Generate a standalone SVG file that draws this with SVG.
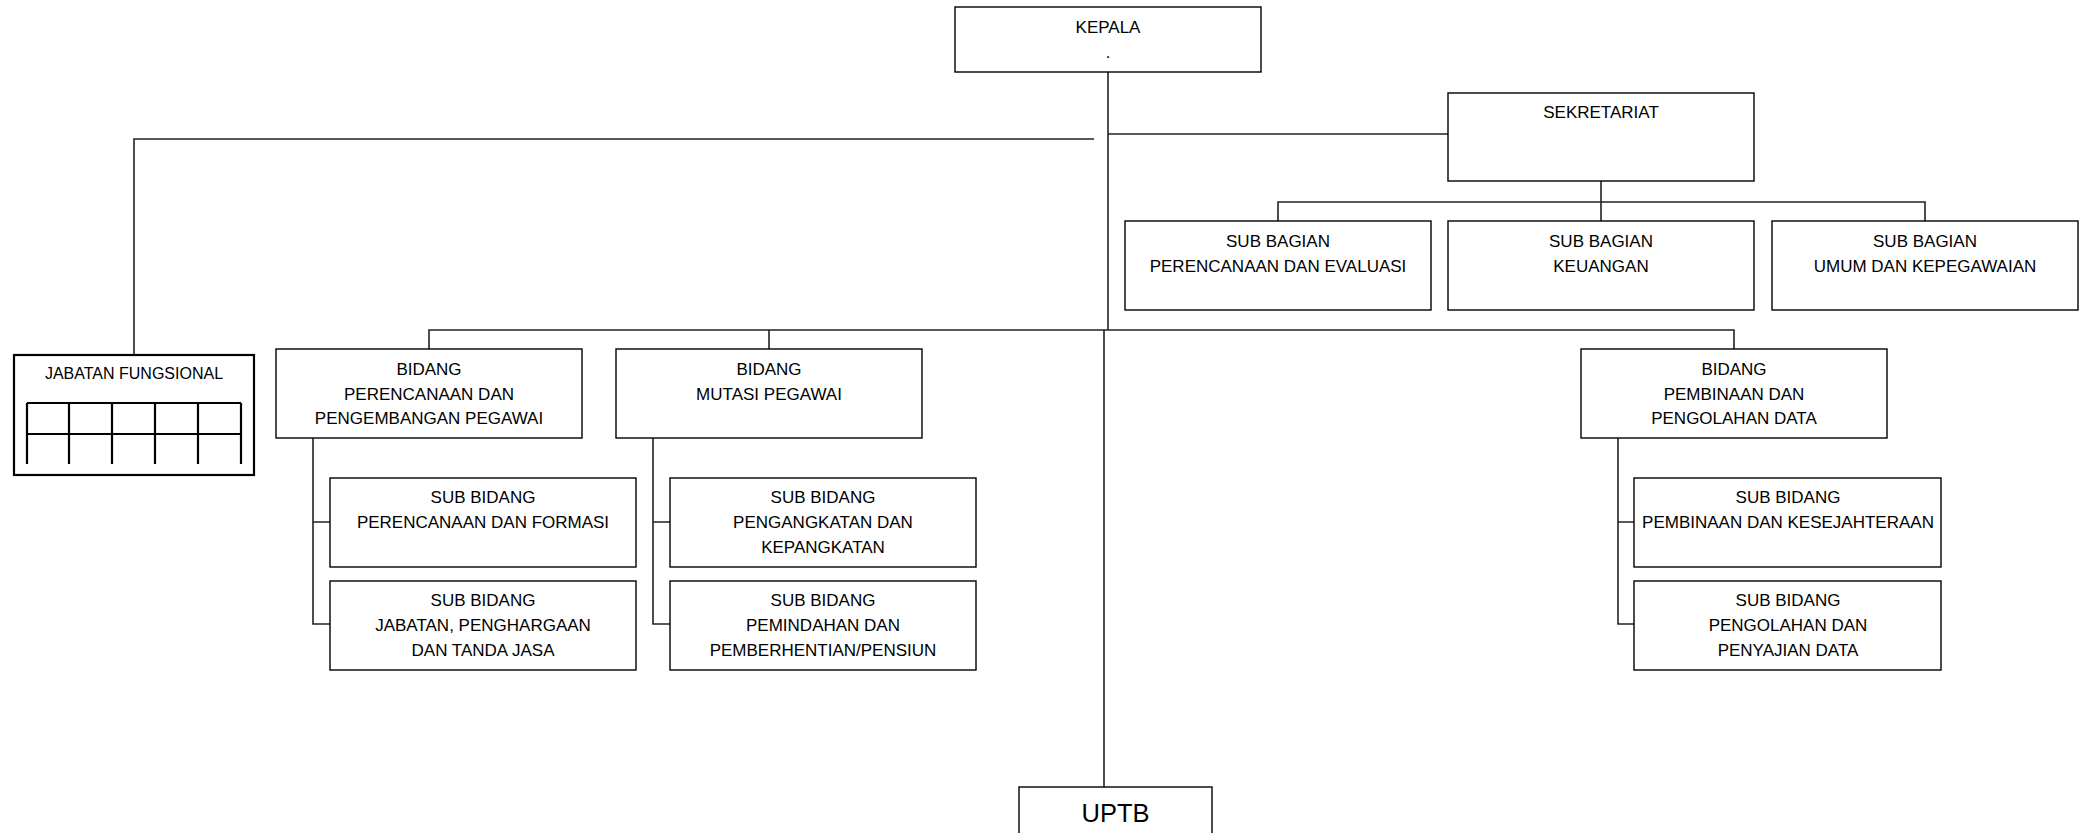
<svg xmlns="http://www.w3.org/2000/svg" width="2080" height="833" viewBox="0 0 2080 833">
<style>
.box{fill:#fff;stroke:#000;stroke-width:1.4}
.t{font-family:"Liberation Sans",Arial,sans-serif;font-size:17px;fill:#000;text-anchor:middle}
.c{fill:none;stroke:#222;stroke-width:1.6}
.g{fill:none;stroke:#000;stroke-width:2.2}
</style>
<rect width="2080" height="833" fill="#fff"/>
<g id="connectors">
<path class="c" d="M1108 72V330"/>
<path class="c" d="M1094 139H134V355"/>
<path class="c" d="M1108 134H1448"/>
<path class="c" d="M1601 181V202M1278 221V202H1925V221M1601 202V221"/>
<path class="c" d="M429 349V330H1734V349M769 330V349"/>
<path class="c" d="M1104 330V787"/>
<path class="c" d="M313 438V624H330M313 522H330"/>
<path class="c" d="M653 438V624H670M653 522H670"/>
<path class="c" d="M1618 438V624H1634M1618 522H1634"/>
</g>
<g id="kepala"><rect class="box" x="955" y="7" width="306" height="65"/><text class="t" x="1108" y="33">KEPALA</text><text class="t" x="1108" y="58">.</text></g>
<g id="sekretariat"><rect class="box" x="1448" y="93" width="306" height="88"/><text class="t" x="1601" y="118">SEKRETARIAT</text></g>
<g id="subbag-perencanaan"><rect class="box" x="1125" y="221" width="306" height="89"/><text class="t" x="1278" y="247">SUB BAGIAN</text><text class="t" x="1278" y="272">PERENCANAAN DAN EVALUASI</text></g>
<g id="subbag-keuangan"><rect class="box" x="1448" y="221" width="306" height="89"/><text class="t" x="1601" y="247">SUB BAGIAN</text><text class="t" x="1601" y="272">KEUANGAN</text></g>
<g id="subbag-umum"><rect class="box" x="1772" y="221" width="306" height="89"/><text class="t" x="1925" y="247">SUB BAGIAN</text><text class="t" x="1925" y="272">UMUM DAN KEPEGAWAIAN</text></g>
<g id="jabatan-fungsional">
<rect x="14" y="355" width="240" height="120" fill="#fff" stroke="#000" stroke-width="2.2"/>
<text class="t" x="134" y="379" style="font-size:16px">JABATAN FUNGSIONAL</text>
<path class="g" d="M27 403H241M27 434H241M27 403V464M69 403V464M112 403V464M155 403V464M198 403V464M241 403V464"/>
</g>
<g id="bidang-perencanaan"><rect class="box" x="276" y="349" width="306" height="89"/><text class="t" x="429" y="375">BIDANG</text><text class="t" x="429" y="400">PERENCANAAN DAN</text><text class="t" x="429" y="424">PENGEMBANGAN PEGAWAI</text></g>
<g id="bidang-mutasi"><rect class="box" x="616" y="349" width="306" height="89"/><text class="t" x="769" y="375">BIDANG</text><text class="t" x="769" y="400">MUTASI PEGAWAI</text></g>
<g id="bidang-pembinaan"><rect class="box" x="1581" y="349" width="306" height="89"/><text class="t" x="1734" y="375">BIDANG</text><text class="t" x="1734" y="400">PEMBINAAN DAN</text><text class="t" x="1734" y="424">PENGOLAHAN DATA</text></g>
<g id="subbid-formasi"><rect class="box" x="330" y="478" width="306" height="89"/><text class="t" x="483" y="503">SUB BIDANG</text><text class="t" x="483" y="528">PERENCANAAN DAN FORMASI</text></g>
<g id="subbid-jabatan"><rect class="box" x="330" y="581" width="306" height="89"/><text class="t" x="483" y="606">SUB BIDANG</text><text class="t" x="483" y="631">JABATAN, PENGHARGAAN</text><text class="t" x="483" y="656">DAN TANDA JASA</text></g>
<g id="subbid-pengangkatan"><rect class="box" x="670" y="478" width="306" height="89"/><text class="t" x="823" y="503">SUB BIDANG</text><text class="t" x="823" y="528">PENGANGKATAN DAN</text><text class="t" x="823" y="553">KEPANGKATAN</text></g>
<g id="subbid-pemindahan"><rect class="box" x="670" y="581" width="306" height="89"/><text class="t" x="823" y="606">SUB BIDANG</text><text class="t" x="823" y="631">PEMINDAHAN DAN</text><text class="t" x="823" y="656">PEMBERHENTIAN/PENSIUN</text></g>
<g id="subbid-kesejahteraan"><rect class="box" x="1634" y="478" width="307" height="89"/><text class="t" x="1788" y="503">SUB BIDANG</text><text class="t" x="1788" y="528">PEMBINAAN DAN KESEJAHTERAAN</text></g>
<g id="subbid-pengolahan"><rect class="box" x="1634" y="581" width="307" height="89"/><text class="t" x="1788" y="606">SUB BIDANG</text><text class="t" x="1788" y="631">PENGOLAHAN DAN</text><text class="t" x="1788" y="656">PENYAJIAN DATA</text></g>
<g id="uptb"><rect class="box" x="1019" y="787" width="193" height="60"/><text class="t" x="1115.5" y="822" style="font-size:25.5px">UPTB</text></g>
</svg>
